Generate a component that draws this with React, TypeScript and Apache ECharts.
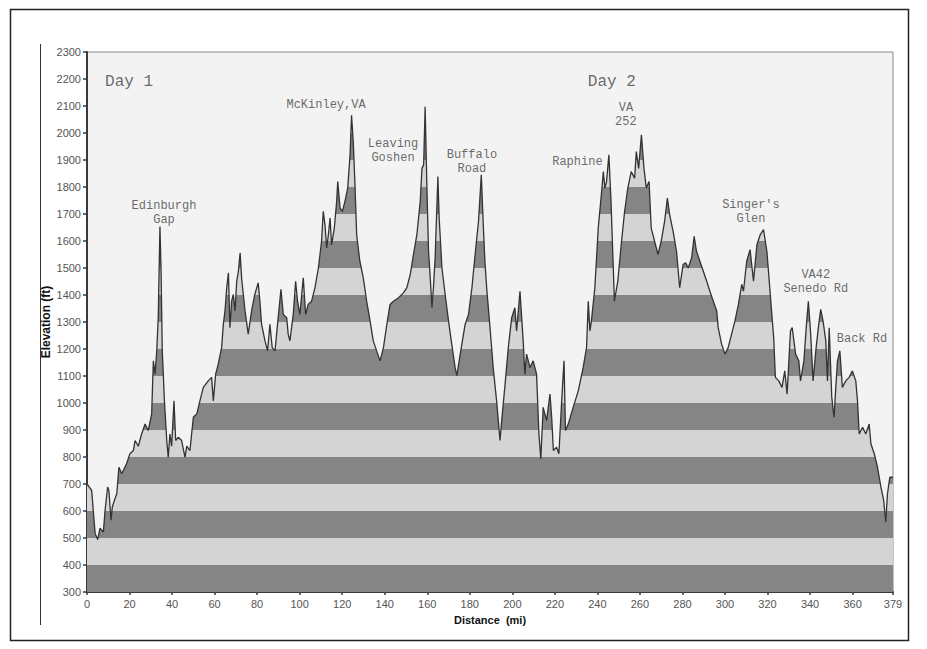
import React, { useEffect, useRef } from "react";
import * as echarts from "echarts";

// Distance along route (miles) and elevation (feet)
const distMi = [
  0, 2.2, 3.8, 5, 6.1, 7.7, 8.5, 9.7, 10.3, 11.3, 11.9, 12.9, 14, 15, 16.3, 18.6, 20.2, 21.8, 22.6, 24.1,
  25.7, 27.3, 28.8, 30.4, 31.2, 32, 32.8, 33.5, 34.3, 34.8, 35.4, 36.4, 37.5, 38.2, 39, 39.8, 40.9, 41.7, 42.9, 44.5,
  46.1, 46.9, 48.4, 50, 51.6, 53.1, 54.7, 57, 58.6, 59.4, 60.5, 61.7, 63.3, 64.1, 64.9, 65.7, 66.5, 67.2, 68, 68.8,
  69.6, 70.4, 71.2, 72, 72.7, 73.5, 74.3, 75.8, 77.4, 78.9, 80.5, 81.3, 82.1, 83.7, 84.9, 86, 87.1, 88.4, 89.9, 91.2,
  92.3, 93.9, 94.6, 95.4, 97, 98.1, 99, 100.1, 101.7, 102.8, 104, 105.6, 107.2, 108.8, 110.3, 111.1, 111.9, 112.7, 113.5, 114.3,
  115, 116.3, 117.4, 117.9, 119, 120.1, 121.3, 122.6, 123.7, 124.4, 125.2, 126, 126.8, 128.3, 129.9, 131.5, 133.1, 134.6, 136.2, 137.8,
  139.4, 141, 142.5, 144.1, 146.5, 148.8, 150.4, 152, 153.5, 155.1, 156.7, 157.5, 158.3, 159, 159.8, 160.6, 161.4, 162.2, 162.9, 163.7,
  165, 165.6, 166.9, 168.4, 170, 171.5, 173.1, 173.9, 175.5, 177.8, 179.4, 181, 182.5, 184.1, 185.4, 186.4, 187.1, 188, 189.5, 191,
  192.6, 194.2, 195, 196.6, 198.1, 199.7, 201.2, 202, 203.6, 204.3, 205.1, 205.9, 206.7, 208.3, 209.8, 211.4, 212.5, 213.4, 214.5, 216.1,
  217.7, 218.5, 219.3, 220.8, 221.9, 223.2, 224.3, 225, 226.3, 228.6, 231, 233.3, 234.9, 235.7, 236.5, 237.2, 238.8, 240.4, 242, 242.8,
  243.5, 244.3, 245.4, 246.4, 247.2, 248, 249.6, 251.2, 252.8, 254.3, 255.9, 257.5, 258.3, 259.4, 260.7, 261.9, 263, 264.3, 265.3, 266.9,
  268.5, 270, 271.6, 272.9, 274, 275.6, 277.2, 278.7, 280.3, 281.5, 282.7, 284.3, 285.5, 286.6, 288.2, 289.8, 291.4, 292.9, 294.5, 296.1,
  296.8, 298.4, 300, 301.5, 303.1, 304.7, 306.3, 307.9, 308.7, 310.2, 311.8, 313.4, 315, 316.6, 318.1, 319.7, 321.3, 322.4, 322.9, 323.7,
  325.3, 326.8, 328.1, 329.2, 330.8, 331.6, 333.2, 334.7, 335.5, 337.1, 338.2, 339.2, 340.3, 341.4, 342.7, 343.9, 345, 346.1, 347.4, 348.2,
  349, 350.2, 351.3, 352.1, 352.9, 354, 355.2, 356.8, 358.4, 359.9, 361.5, 362.3, 363.1, 364.7, 366.2, 367.8, 368.6, 370.2, 371.7, 373.3,
  374.6, 375.6, 376.4, 377.5, 379,
];
const elevFt = [
  700, 676, 518, 494, 536, 522, 603, 689, 676, 566, 615, 640, 664, 762, 738, 775, 812, 824, 861, 840,
  885, 922, 898, 959, 1156, 1107, 1193, 1316, 1654, 1500, 1193, 1008, 861, 799, 885, 840, 1008, 861, 873, 861,
  799, 840, 824, 947, 959, 1008, 1058, 1082, 1095, 1008, 1107, 1144, 1205, 1291, 1341, 1427, 1482, 1279, 1377, 1402,
  1341, 1451, 1488, 1556, 1463, 1402, 1341, 1255, 1341, 1402, 1445, 1377, 1291, 1230, 1193, 1291, 1205, 1193, 1316, 1421,
  1328, 1316, 1255, 1230, 1328, 1451, 1377, 1328, 1464, 1328, 1365, 1377, 1427, 1500, 1599, 1710, 1660, 1574, 1623, 1685,
  1586, 1648, 1747, 1820, 1722, 1710, 1747, 1796, 1919, 2066, 1968, 1808, 1623, 1525, 1464, 1377, 1304, 1230, 1193, 1156,
  1205, 1291, 1365, 1377, 1390, 1408, 1427, 1476, 1550, 1623, 1747, 1869, 1882, 2097, 1808, 1562, 1464, 1353, 1427, 1537,
  1839, 1685, 1500, 1402, 1304, 1218, 1131, 1101, 1181, 1291, 1328, 1427, 1550, 1673, 1845, 1648, 1525, 1420, 1279, 1131,
  1008, 861, 935, 1070, 1205, 1316, 1353, 1267, 1414, 1328, 1230, 1107, 1181, 1131, 1156, 1107, 885, 793, 984, 935,
  1033, 947, 824, 836, 812, 1008, 1156, 898, 922, 984, 1045, 1131, 1205, 1377, 1267, 1304, 1427, 1648, 1784, 1857,
  1796, 1820, 1919, 1747, 1562, 1377, 1451, 1586, 1710, 1796, 1857, 1833, 1931, 1869, 1993, 1869, 1796, 1820, 1648, 1599,
  1550, 1599, 1673, 1759, 1697, 1636, 1562, 1427, 1513, 1519, 1500, 1537, 1617, 1562, 1525, 1488, 1451, 1414, 1377, 1341,
  1279, 1218, 1181, 1205, 1255, 1304, 1365, 1439, 1414, 1525, 1568, 1451, 1586, 1624, 1642, 1562, 1402, 1291, 1242, 1095,
  1082, 1058, 1119, 1033, 1267, 1279, 1181, 1156, 1082, 1156, 1279, 1377, 1255, 1082, 1193, 1279, 1347, 1304, 1230, 1082,
  1279, 1021, 947, 1058, 1156, 1193, 1058, 1082, 1095, 1119, 1082, 1008, 885, 910, 885, 922, 849, 812, 762, 689,
  640, 559, 664, 725, 725,
];

// Axis extents and bands
const X_MIN = 0;
const X_MAX = 379;
const X_STEP = 20;
const Y_MIN = 300;
const Y_MAX = 2300;
const Y_STEP = 100;

// Annotations: text, distance (mi), elevation (ft), alignment
const noteText = [
  "Day 1", "Day 2", "Edinburgh\nGap", "McKinley,VA", "Leaving\nGoshen", "Buffalo\nRoad",
  "Raphine", "VA\n252", "Singer's\nGlen", "VA42\nSenedo Rd", "Back Rd",
];
const noteMi = [8.5, 235.5, 36.2, 112.4, 143.9, 181, 230.6, 253.4, 312.2, 342.7, 364.4];
const noteFt = [2190, 2190, 1704, 2104, 1935, 1894, 1894, 2067, 1706, 1448, 1237];
const noteAlign = ["left", "left", "center", "center", "center", "center", "center", "center", "center", "center", "center"];

const DARK = "#858585";
const LIGHT = "#d4d4d4";

export default function App() {
  const ref = useRef<HTMLDivElement>(null);
  useEffect(() => {
    const chart = echarts.init(ref.current!, null, { renderer: "svg" });
    const profile = distMi.map((d, i) => [d, elevFt[i]]);
    const pieces: any[] = [];
    for (let v = Y_MIN; v < Y_MAX; v += Y_STEP) {
      pieces.push({ gte: v, lt: v + Y_STEP, color: ((v - Y_MIN) / Y_STEP) % 2 === 0 ? DARK : LIGHT });
    }
    const notes = noteText.map((t, i) => ({
      value: [noteMi[i], noteFt[i]],
      name: t,
      label: {
        align: noteAlign[i],
        fontSize: i < 2 ? 16 : 12,
        lineHeight: i < 2 ? 18 : 14,
      },
    }));
    const axisFont = { fontFamily: "'Liberation Sans', Arial, sans-serif", fontSize: 11, color: "#555" };
    chart.setOption({
      animation: false,
      backgroundColor: "#ffffff",
      grid: {
        left: 87,
        top: 52,
        right: 34,
        bottom: 57,
        show: true,
        backgroundColor: "#f3f3f3",
        borderColor: "#8a8a8a",
        borderWidth: 1,
        containLabel: false,
      },
      visualMap: {
        type: "piecewise",
        show: false,
        dimension: 1,
        seriesIndex: 0,
        pieces,
        outOfRange: { color: DARK },
      },
      xAxis: {
        type: "value",
        min: X_MIN,
        max: X_MAX,
        interval: X_STEP,
        name: "Distance  (mi)",
        nameLocation: "middle",
        nameGap: 22,
        nameMoveOverlap: false,
        nameTextStyle: {
          fontFamily: "'Liberation Sans', Arial, sans-serif",
          fontWeight: "bold",
          fontSize: 11,
          color: "#111",
        },
        axisLine: { lineStyle: { color: "#3a3a3a", width: 2 } },
        axisTick: { show: true, length: 3, lineStyle: { color: "#3a3a3a", width: 1.5 } },
        axisLabel: { ...axisFont, margin: 6, formatter: (v: number) => String(v) },
        splitLine: { show: false },
      },
      yAxis: {
        type: "value",
        min: Y_MIN,
        max: Y_MAX,
        interval: Y_STEP,
        name: "Elevation (ft)",
        nameLocation: "middle",
        nameGap: 35,
        nameMoveOverlap: false,
        nameTextStyle: {
          fontFamily: "'Liberation Sans', Arial, sans-serif",
          fontWeight: "bold",
          fontSize: 12,
          color: "#111",
        },
        axisLine: { show: true, lineStyle: { color: "#3a3a3a", width: 2 } },
        axisTick: { show: true, length: 4, lineStyle: { color: "#3a3a3a", width: 1.5 } },
        axisLabel: { ...axisFont, margin: 6, formatter: (v: number) => String(v) },
        splitLine: { show: false },
      },
      series: [
        {
          type: "line",
          data: profile,
          symbol: "none",
          silent: true,
          lineStyle: { width: 0, opacity: 0 },
          areaStyle: { opacity: 1 },
          z: 2,
        },
        {
          type: "line",
          data: profile,
          symbol: "none",
          silent: true,
          lineStyle: { color: "#333333", width: 1.3 },
          z: 3,
        },
        {
          type: "scatter",
          data: notes,
          symbolSize: 0,
          silent: true,
          z: 5,
          label: {
            show: true,
            position: "inside",
            formatter: "{b}",
            fontFamily: "'Courier New', 'Liberation Mono', monospace",
            color: "#444",
            verticalAlign: "middle",
          },
        },
      ],
      graphic: [
        {
          type: "rect",
          shape: { x: 10.5, y: 9.5, width: 898, height: 631 },
          style: { fill: "none", stroke: "#222", lineWidth: 1.5 },
          z: 100,
          silent: true,
        },
        {
          type: "line",
          shape: { x1: 40.5, y1: 44, x2: 40.5, y2: 625 },
          style: { stroke: "#333", lineWidth: 1 },
          z: 100,
          silent: true,
        },
      ],
    });
    return () => chart.dispose();
  }, []);
  return (
    <div
      ref={ref}
      style={{ position: "fixed", left: 0, top: 0, width: 927, height: 649 }}
    />
  );
}
